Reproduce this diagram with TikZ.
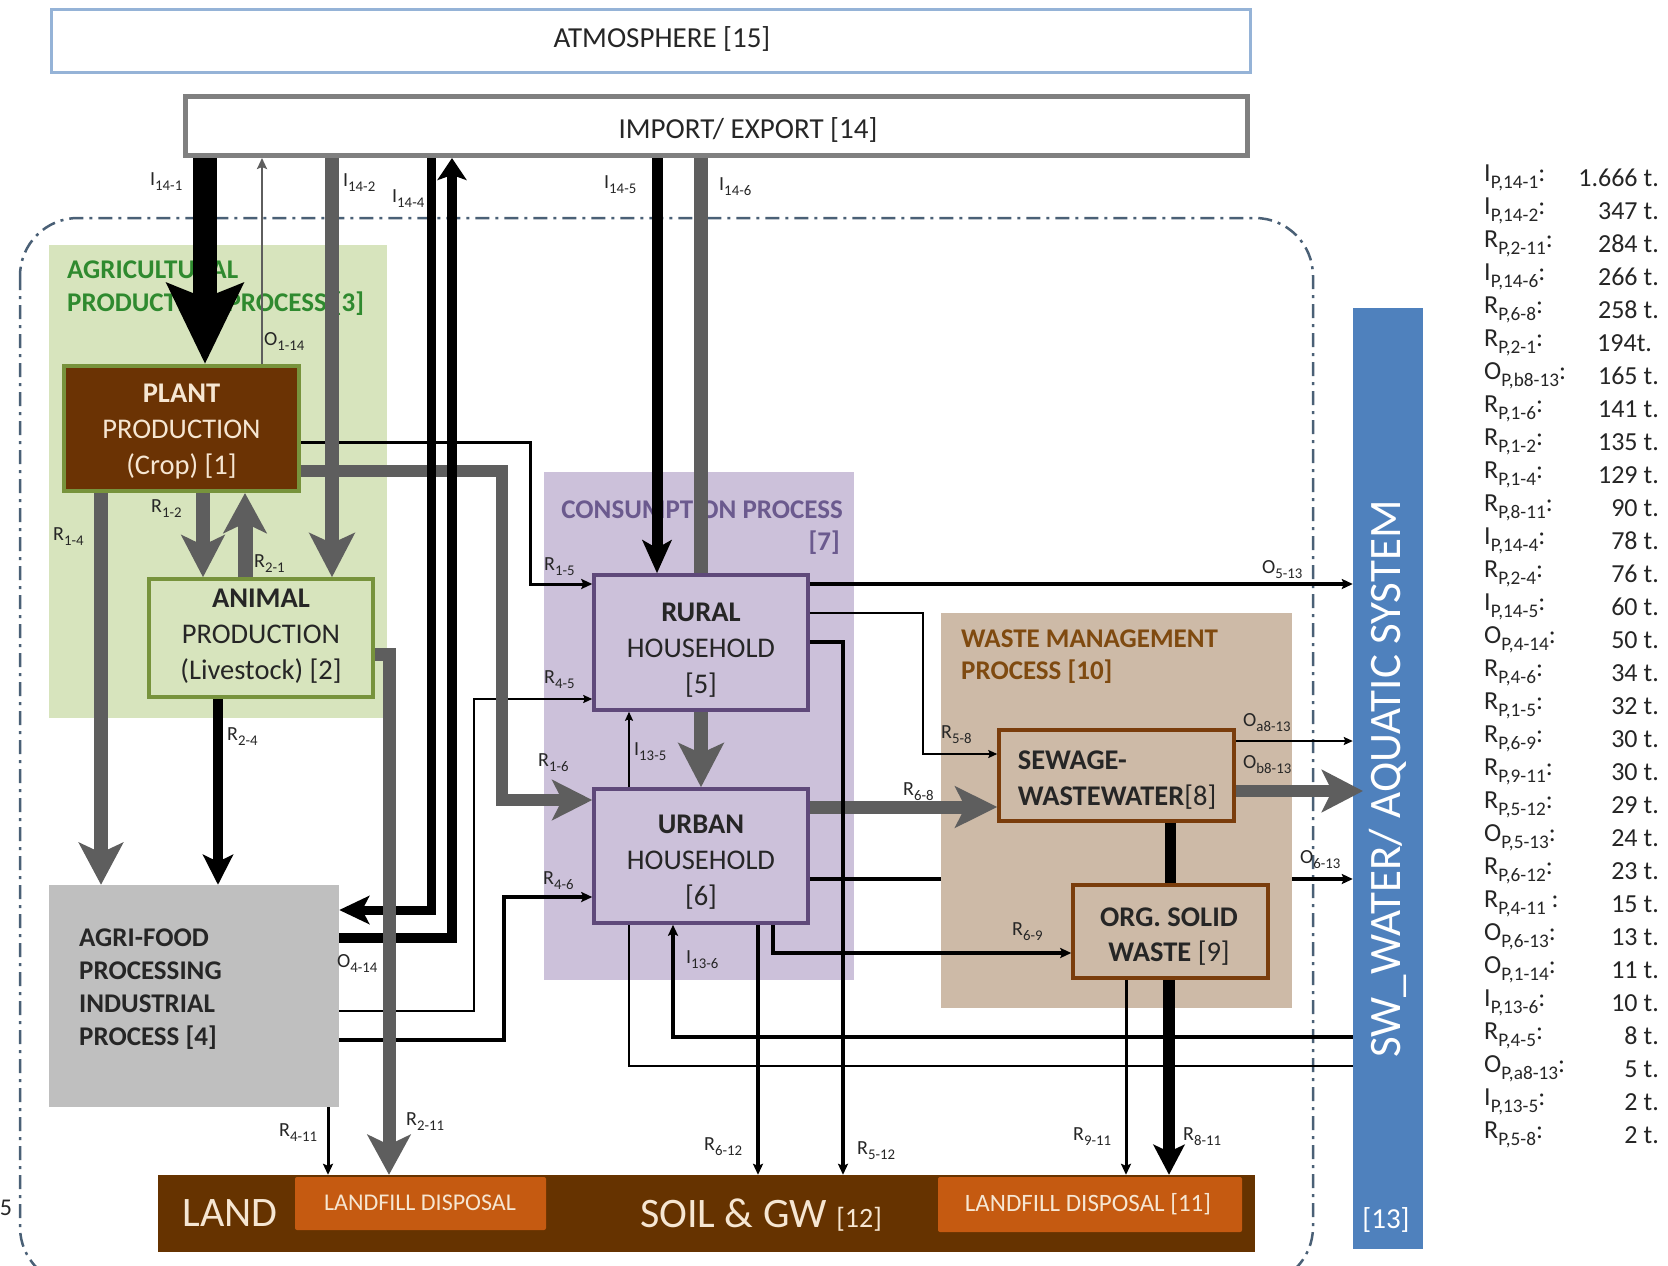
\documentclass[tikz,border=0pt]{standalone}
\usepackage{fontspec}
\setmainfont{Carlito}
\usepackage{graphicx}
\usetikzlibrary{arrows.meta}

\definecolor{gbar}{HTML}{5E5E5E}
\definecolor{atmb}{HTML}{95B3D7}
\definecolor{impb}{HTML}{808080}
\definecolor{bound}{HTML}{4A6076}
\definecolor{agbg}{HTML}{D7E4BD}
\definecolor{agtx}{HTML}{2F8A2F}
\definecolor{olive}{HTML}{77933C}
\definecolor{brn}{HTML}{6B3304}
\definecolor{cream}{HTML}{F6E6D2}
\definecolor{agrig}{HTML}{BFBFBF}
\definecolor{consbg}{HTML}{CCC1DA}
\definecolor{purp}{HTML}{5F497A}
\definecolor{constx}{HTML}{6B5A8E}
\definecolor{wastebg}{HTML}{CDBAA7}
\definecolor{wastetx}{HTML}{7F4A10}
\definecolor{sewb}{HTML}{7A3D0C}
\definecolor{landc}{HTML}{663300}
\definecolor{fillc}{HTML}{C55A11}
\definecolor{swc}{HTML}{4F81BD}
\definecolor{labc}{HTML}{262626}

\newcommand\flab[2]{#1\raisebox{-0.25em}{\scalebox{0.74}{#2}}}
\newcommand\fsz[2]{\fontsize{#1}{#2}\selectfont}
\newcommand\lrow[5]{%
  \node[lst, anchor=west] (lk#1) at (1484,{178+33*(#1-1)}) {#2};
  \node[lst, anchor=#3] (lv#1) at (#4,{178+33*(#1-1)}) {#5};}

\tikzset{
  gb/.style={draw=gbar, line width=#1},
  bk/.style={draw=black, line width=#1},
  tip/.style n args={3}{-{Stealth[length=#1,width=#2,inset=#3]}},
  smt/.style={-{Stealth[length=11pt,width=10pt,inset=2pt]}},
  smts/.style={-{Stealth[length=9pt,width=8pt,inset=1.5pt]}},
  lab/.style={anchor=west, inner sep=0pt, font=\fsz{20}{20}, text=labc},
  lst/.style={inner sep=0pt, font=\fsz{26}{26}, text=labc},
  ttl/.style={inner sep=0pt, font=\bfseries\fsz{27}{33}},
  shell/.style={rectangle, inner sep=0pt},
  btxt/.style={inner sep=0pt, align=center, font=\fsz{28.5}{36}, text=labc},
}

\begin{document}
\begin{tikzpicture}[x=1pt,y=-1pt]
\useasboundingbox (0,0) rectangle (1668,1266);
\fill[white] (0,0) rectangle (1668,1266);
\clip (0,0) rectangle (1668,1266);

% top reservoirs
\node[shell, draw=atmb, line width=3, fill=white, minimum width=1199, minimum height=63] (atm) at (651,41) {};
\node[font=\fsz{29}{29}, text=labc, inner sep=0pt] (atmt) at (662,39) {ATMOSPHERE [15]};
\node[shell, draw=impb, line width=5, fill=white, minimum width=1062, minimum height=59] (imp) at (716.5,126) {};
\node[font=\fsz{29}{29}, text=labc, inner sep=0pt] (impt) at (748,130) {IMPORT/ EXPORT [14]};

% system boundary
\draw[bound, line width=2.5, dash pattern=on 14pt off 6pt on 3pt off 6pt, rounded corners=58] (20,218) rectangle (1313,1285);

% process areas
\fill[agbg] (49,245) rectangle (387,718);
\fill[consbg] (544,472) rectangle (854,980);
\node[shell, fill=swc, minimum width=70, minimum height=941] (sw) at (1388,778.5) {};
\node[rotate=90, text=white, font=\fsz{45}{45}, inner sep=0pt] (swt) at (1388,779) {SW\_WATER/ AQUATIC SYSTEM};
\node[text=white, font=\fsz{29}{29}, inner sep=0pt] (sw13) at (1386,1220) {[13]};

% urban -> water, running behind the waste area
\coordinate (o613a) at (810,879);
\draw[bk=4, smt] (o613a) -- (sw.west |- o613a);

\fill[wastebg] (941,613) rectangle (1292,1008);

% area titles
\node[ttl, anchor=west, text=agtx] (t3a) at (67,270) {AGRICULTURAL};
\node[ttl, anchor=west, text=agtx] (t3b) at (67,304) {PRODUCTION PROCESS [3]};
\node[ttl, anchor=east, text=constx] (t7a) at (843,510) {CONSUMPTION PROCESS};
\node[ttl, anchor=east, text=constx] (t7b) at (840,543) {[7]};
\node[ttl, anchor=west, text=wastetx] (t10a) at (961,639) {WASTE MANAGEMENT};
\node[ttl, anchor=west, text=wastetx] (t10b) at (961,672) {PROCESS [10]};

% land / soil
\node[shell, fill=landc, minimum width=1097, minimum height=77] (land) at (706.5,1213.5) {};
\node[shell, fill=fillc, rounded corners=2, minimum width=251, minimum height=53] (fillL) at (420.5,1203.5) {};
\node[shell, fill=fillc, rounded corners=2, minimum width=304, minimum height=55] (fillR) at (1090,1204.5) {};
\node[text=cream, font=\fsz{42}{42}, inner sep=0pt] (tland) at (230,1213) {LAND};
\node[text=cream, font=\fsz{42}{42}, inner sep=0pt] (tsoil) at (761,1215) {SOIL \& GW {\fsz{28}{28}[12]}};
\node[text=cream, font=\fsz{24}{24}, inner sep=0pt] (tfl) at (420,1203) {LANDFILL DISPOSAL};
\node[text=cream, font=\fsz{25}{25}, inner sep=0pt] (tfr) at (1088,1204) {LANDFILL DISPOSAL [11]};

% process boxes
\node[shell, fill=agrig, minimum width=290, minimum height=222] (agri) at (194,996) {};
\node[anchor=west, align=left, inner sep=0pt, font=\bfseries\fsz{27}{33}, text=labc] (agrit) at (79,989) {AGRI-FOOD\\PROCESSING\\INDUSTRIAL\\PROCESS [4]};
\node[shell, fill=brn, draw=olive, line width=4, minimum width=235, minimum height=125] (plant) at (181.5,428.5) {};
\node[btxt, text=cream] (plantt) at (181.5,431.5) {\textbf{PLANT}\\PRODUCTION\\(Crop) [1]};
\node[shell, fill=agbg, draw=olive, line width=3.5, minimum width=224, minimum height=118] (animal) at (261,638) {};
\node[btxt] (animalt) at (261,636.5) {\textbf{ANIMAL}\\PRODUCTION\\(Livestock) [2]};
\node[shell, fill=consbg, draw=purp, line width=3.5, minimum width=214, minimum height=134] (urban) at (701,856) {};
\node[btxt] (urbant) at (701,862.5) {\textbf{URBAN}\\HOUSEHOLD\\{}[6]};
\node[shell, fill=wastebg, draw=sewb, line width=3.5, minimum width=235, minimum height=91] (sewage) at (1116.5,775.5) {};
\node[btxt, align=left] (sewaget) at (1117,780.5) {\textbf{SEWAGE-}\\\textbf{WASTEWATER}[8]};
\node[shell, fill=wastebg, draw=sewb, line width=3.5, minimum width=195, minimum height=93] (org) at (1170.5,931.5) {};
\node[btxt, font=\fsz{28.5}{35}] (orgt) at (1169,937) {\textbf{ORG. SOLID}\\\textbf{WASTE} [9]};

% import to urban household, passing behind the rural box
\draw[gb=14, tip={44pt}{45pt}{10pt}] (imp.south -| 701,0) -- (urban.north -| 701,0);
\node[shell, fill=consbg, draw=purp, line width=3.5, minimum width=214, minimum height=135] (rural) at (701,642.5) {};
\node[btxt] (ruralt) at (701,650) {\textbf{RURAL}\\HOUSEHOLD\\{}[5]};

% thin flows from agri-food industry
\draw[bk=1.8, smts] (agri.east |- 0,1011) -- (474,1011) |- (rural.west |- 0,699);
\draw[bk=4, smt] (agri.east |- 0,1040) -- (504,1040) |- (urban.west |- 0,897);

% grey flows lying under black lines
\draw[gb=12, tip={40pt}{40pt}{10pt}] (plant.east |- 0,471) -- (502,471) |- (urban.west |- 0,800);
\draw[gb=13, tip={42pt}{41pt}{10pt}] (urban.east |- 0,807) -- (sewage.west |- 0,807);

% black flows
\draw[bk=24, tip={80pt}{75pt}{14pt}] (imp.south -| 205,0) -- (plant.north -| 205,0);
\draw[bk=9, tip={30pt}{28pt}{7pt}] (imp.south -| 431,0) |- (agri.east |- 0,910);
\draw[bk=10, tip={22pt}{29pt}{5pt}] (agri.east |- 0,938) -| (imp.south -| 452,0);
\draw[bk=11, tip={33pt}{29pt}{8pt}] (imp.south -| 657,0) -- (rural.north -| 657,0);
\draw[bk=10, tip={30pt}{30pt}{7pt}] (animal.south -| 218,0) -- (agri.north -| 218,0);
\draw[bk=3, smt] (plant.east |- 0,442) -- (530,442) |- (rural.west |- 0,584);
\draw[bk=3, smt] (agri.south -| 328,0) -- (land.north -| 328,0);
\draw[bk=1.8, smts] (urban.north -| 629,0) -- (rural.south -| 629,0);
\draw[bk=3.5, smt] (rural.east |- 0,584) -- (sw.west |- 0,584);
\draw[bk=1.5, smts] (rural.east |- 0,613) -- (923,613) |- (sewage.west |- 0,754);
\draw[bk=4, smt] (rural.east |- 0,642) -- (843,642) -- (land.north -| 843,0);
\draw[bk=4, smt] (urban.south -| 773,0) |- (org.west |- 0,953);
\draw[bk=4, smt] (urban.south -| 758,0) -- (land.north -| 758,0);
\draw[bk=4, smt] (sw.west |- 0,1037) -| (urban.south -| 673,0);
\draw[bk=1.5] (urban.south -| 629,0) |- (sw.west |- 0,1066);
\draw[bk=1.8, smts] (sewage.east |- 0,741) -- (sw.west |- 0,741);
\draw[bk=11] (sewage.south -| 1170,0) -- (org.north -| 1170,0);
\draw[bk=12, tip={30pt}{31pt}{7pt}] (org.south -| 1169,0) -- (land.north -| 1169,0);
\draw[bk=3, smt] (org.south -| 1126,0) -- (land.north -| 1126,0);

% grey flows on top
\draw[gb=2.5, smt] (plant.north -| 262,0) -- (imp.south -| 262,0);
\draw[gb=14, tip={44pt}{45pt}{10pt}] (imp.south -| 332,0) -- (animal.north -| 332,0);
\draw[gb=14, tip={42pt}{44pt}{10pt}] (plant.south -| 101,0) -- (agri.north -| 101,0);
\draw[gb=14, tip={42pt}{43pt}{10pt}] (plant.south -| 203,0) -- (animal.north -| 203,0);
\draw[gb=15, tip={40pt}{43pt}{10pt}] (animal.north -| 245,0) -- (plant.south -| 245,0);
\draw[gb=13, tip={40pt}{43pt}{10pt}] (animal.east |- 0,654) -| (land.north -| 389,0);
\coordinate (obtip) at (1363,791);
\draw[gb=12, tip={41pt}{42pt}{10pt}] (sewage.east |- obtip) -- (obtip);

% flow labels
\node[lab] (lI141) at (150,182) {\flab{I}{14-1}};
\node[lab] (lO114) at (264,342) {\flab{O}{1-14}};
\node[lab] (lI142) at (343,183) {\flab{I}{14-2}};
\node[lab] (lI144) at (392,199) {\flab{I}{14-4}};
\node[lab] (lI145) at (604,185) {\flab{I}{14-5}};
\node[lab] (lI146) at (719,187) {\flab{I}{14-6}};
\node[lab] (lR14) at (53,537) {\flab{R}{1-4}};
\node[lab] (lR12) at (151,509) {\flab{R}{1-2}};
\node[lab] (lR21) at (254,564) {\flab{R}{2-1}};
\node[lab] (lR24) at (227,737) {\flab{R}{2-4}};
\node[lab] (lR15) at (544,567) {\flab{R}{1-5}};
\node[lab] (lR45) at (544,680) {\flab{R}{4-5}};
\node[lab] (lR16) at (538,763) {\flab{R}{1-6}};
\node[lab] (lI135) at (634,752) {\flab{I}{13-5}};
\node[lab] (lR46) at (543,881) {\flab{R}{4-6}};
\node[lab] (lO414) at (337,963) {\flab{O}{4-14}};
\node[lab] (lI136) at (686,960) {\flab{I}{13-6}};
\node[lab] (lR411) at (279,1133) {\flab{R}{4-11}};
\node[lab] (lR211) at (406,1122) {\flab{R}{2-11}};
\node[lab] (lR612) at (704,1147) {\flab{R}{6-12}};
\node[lab] (lR512) at (857,1151) {\flab{R}{5-12}};
\node[lab] (lR911) at (1073,1137) {\flab{R}{9-11}};
\node[lab] (lR811) at (1183,1137) {\flab{R}{8-11}};
\node[lab] (lR68) at (903,792) {\flab{R}{6-8}};
\node[lab] (lR58) at (941,735) {\flab{R}{5-8}};
\node[lab] (lR69) at (1012,932) {\flab{R}{6-9}};
\node[lab] (lO513) at (1262,570) {\flab{O}{5-13}};
\node[lab] (lOa813) at (1243,723) {\flab{O}{a8-13}};
\node[lab] (lOb813) at (1243,765) {\flab{O}{b8-13}};
\node[lab] (lO613) at (1300,860) {\flab{O}{6-13}};
\node[inner sep=0pt, font=\fsz{24}{24}, text=labc] (five) at (6,1208) {5};

% flow quantities
\lrow{1}{\flab{I}{P,14-1}:}{east}{1659}{1.666 t.}
\lrow{2}{\flab{I}{P,14-2}:}{east}{1659}{347 t.}
\lrow{3}{\flab{R}{P,2-11}:}{east}{1659}{284 t.}
\lrow{4}{\flab{I}{P,14-6}:}{east}{1659}{266 t.}
\lrow{5}{\flab{R}{P,6-8}:}{east}{1659}{258 t.}
\lrow{6}{\flab{R}{P,2-1}:}{west}{1597}{194t.}
\lrow{7}{\flab{O}{P,b8-13}:}{east}{1659}{165 t.}
\lrow{8}{\flab{R}{P,1-6}:}{east}{1659}{141 t.}
\lrow{9}{\flab{R}{P,1-2}:}{east}{1659}{135 t.}
\lrow{10}{\flab{R}{P,1-4}:}{east}{1659}{129 t.}
\lrow{11}{\flab{R}{P,8-11}:}{east}{1659}{90 t.}
\lrow{12}{\flab{I}{P,14-4}:}{east}{1659}{78 t.}
\lrow{13}{\flab{R}{P,2-4}:}{east}{1659}{76 t.}
\lrow{14}{\flab{I}{P,14-5}:}{east}{1659}{60 t.}
\lrow{15}{\flab{O}{P,4-14}:}{east}{1659}{50 t.}
\lrow{16}{\flab{R}{P,4-6}:}{east}{1659}{34 t.}
\lrow{17}{\flab{R}{P,1-5}:}{east}{1659}{32 t.}
\lrow{18}{\flab{R}{P,6-9}:}{east}{1659}{30 t.}
\lrow{19}{\flab{R}{P,9-11}:}{east}{1659}{30 t.}
\lrow{20}{\flab{R}{P,5-12}:}{east}{1659}{29 t.}
\lrow{21}{\flab{O}{P,5-13}:}{east}{1659}{24 t.}
\lrow{22}{\flab{R}{P,6-12}:}{east}{1659}{23 t.}
\lrow{23}{\flab{R}{P,4-11} :}{east}{1659}{15 t.}
\lrow{24}{\flab{O}{P,6-13}:}{east}{1659}{13 t.}
\lrow{25}{\flab{O}{P,1-14}:}{east}{1659}{11 t.}
\lrow{26}{\flab{I}{P,13-6}:}{east}{1659}{10 t.}
\lrow{27}{\flab{R}{P,4-5}:}{east}{1659}{8 t.}
\lrow{28}{\flab{O}{P,a8-13}:}{east}{1659}{5 t.}
\lrow{29}{\flab{I}{P,13-5}:}{east}{1659}{2 t.}
\lrow{30}{\flab{R}{P,5-8}:}{east}{1659}{2 t.}
\end{tikzpicture}
\end{document}
